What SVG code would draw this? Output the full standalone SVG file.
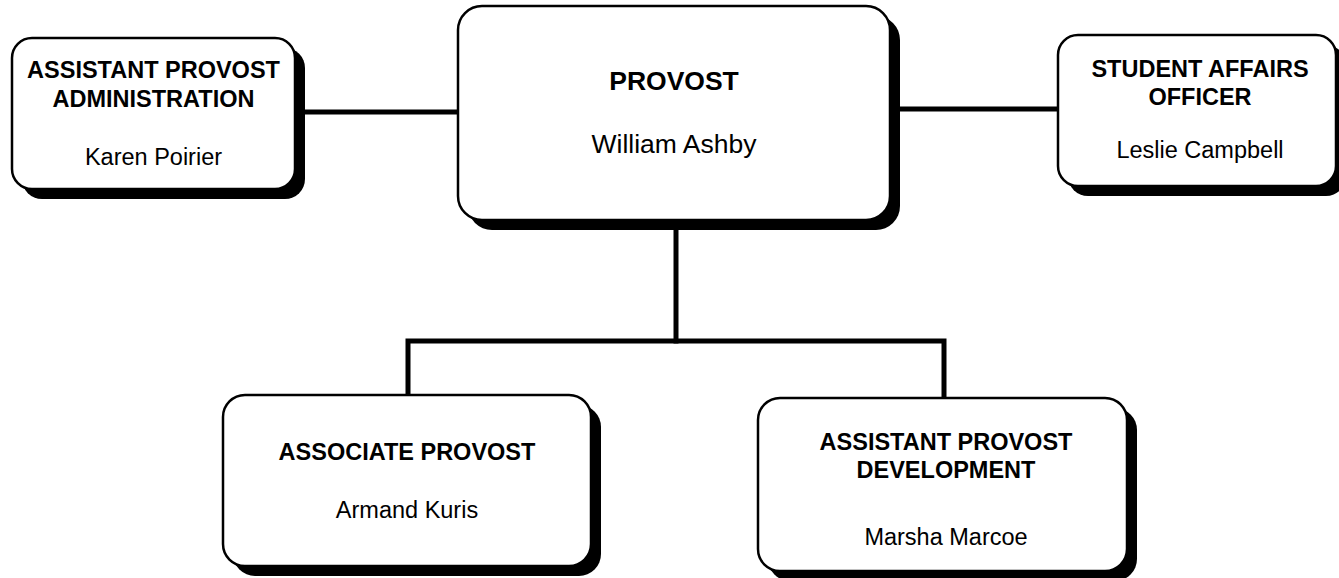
<svg xmlns="http://www.w3.org/2000/svg" width="1339" height="578" viewBox="0 0 1339 578">
<style>
.shadow{fill:#000}
.box{fill:#fff;stroke:#000;stroke-width:2.5}
.t{font-family:"Liberation Sans",Arial,sans-serif;font-size:23.5px;fill:#000;text-anchor:middle}
.b{font-weight:bold}
.big{font-size:26.5px}
.conn{stroke:#000;stroke-width:5;fill:none;stroke-linecap:square}
</style>
<rect width="1339" height="578" fill="#fff"/>
<g id="connectors">
<line class="conn" x1="297" y1="112" x2="458" y2="112"/>
<line class="conn" x1="900" y1="109" x2="1058" y2="109"/>
<polyline class="conn" points="676,230 676,341"/>
<polyline class="conn" points="408,395 408,341 944,341 944,398"/>
</g>
<g id="node-admin">
<rect class="shadow" x="22" y="48" width="283" height="151" rx="20"/>
<rect class="box" x="12" y="38" width="283" height="151" rx="20"/>
<text class="t b" x="153.5" y="78">ASSISTANT PROVOST</text>
<text class="t b" x="153.5" y="107">ADMINISTRATION</text>
<text class="t" x="153.5" y="165">Karen Poirier</text>
</g>
<g id="node-provost">
<rect class="shadow" x="468" y="16" width="432" height="214" rx="24"/>
<rect class="box" x="458" y="6" width="432" height="214" rx="24"/>
<text class="t b big" x="674" y="90">PROVOST</text>
<text class="t big" x="674" y="153">William Ashby</text>
</g>
<g id="node-student">
<rect class="shadow" x="1068" y="45" width="278" height="151" rx="20"/>
<rect class="box" x="1058" y="35" width="278" height="151" rx="20"/>
<text class="t b" x="1200" y="77">STUDENT AFFAIRS</text>
<text class="t b" x="1200" y="105">OFFICER</text>
<text class="t" x="1200" y="158">Leslie Campbell</text>
</g>
<g id="node-associate">
<rect class="shadow" x="233" y="405" width="368" height="171" rx="22"/>
<rect class="box" x="223" y="395" width="368" height="171" rx="22"/>
<text class="t b" x="407" y="460">ASSOCIATE PROVOST</text>
<text class="t" x="407" y="518">Armand Kuris</text>
</g>
<g id="node-development">
<rect class="shadow" x="768" y="408" width="369" height="173" rx="22"/>
<rect class="box" x="758" y="398" width="369" height="173" rx="22"/>
<text class="t b" x="946" y="450">ASSISTANT PROVOST</text>
<text class="t b" x="946" y="478">DEVELOPMENT</text>
<text class="t" x="946" y="545">Marsha Marcoe</text>
</g>
</svg>
